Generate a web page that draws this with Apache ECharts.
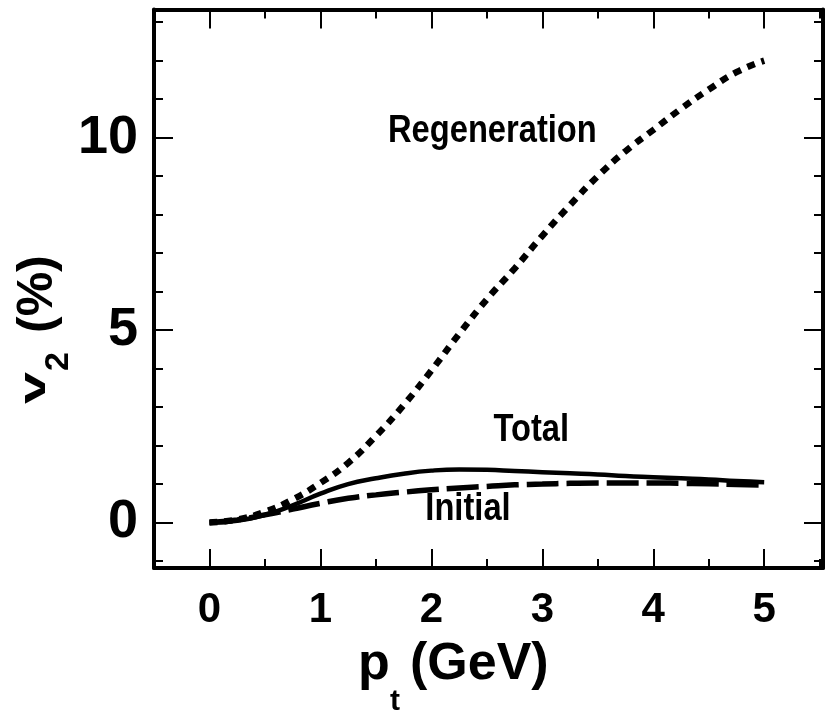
<!DOCTYPE html>
<html>
<head>
<meta charset="utf-8">
<script src="https://cdn.jsdelivr.net/npm/echarts@6/dist/echarts.min.js"></script>
<style>
  html, body { margin: 0; padding: 0; background: #fff; }
  #chart { width: 825px; height: 715px; }
</style>
</head>
<body>
<div id="chart"></div>
<script>
// Transverse momentum grid (GeV)
const pt = [0, 0.25, 0.5, 0.75, 1.0, 1.25, 1.5, 1.75, 2.0, 2.25, 2.5, 2.75,
            3.0, 3.25, 3.5, 3.75, 4.0, 4.25, 4.5, 4.75, 5.0];
// Elliptic flow v2 (%) for each production component
const regeneration = [0, 0.08, 0.28, 0.6, 1.03, 1.55, 2.25, 3.05, 3.95, 4.9, 5.8,
                      6.6, 7.45, 8.25, 9.0, 9.65, 10.2, 10.75, 11.25, 11.7, 12.0];
const total = [0, 0.05, 0.2, 0.45, 0.75, 1.0, 1.15, 1.27, 1.35, 1.38, 1.37,
               1.34, 1.31, 1.28, 1.25, 1.21, 1.18, 1.15, 1.12, 1.08, 1.05];
const initial = [0, 0.07, 0.2, 0.35, 0.5, 0.63, 0.72, 0.79, 0.85, 0.9, 0.94,
                 0.98, 1.0, 1.02, 1.03, 1.03, 1.03, 1.02, 1.01, 0.99, 0.97];

// Axis ticks
const xMajorTicks = [0, 1, 2, 3, 4, 5];
const xMinorTicks = [0.5, 1.5, 2.5, 3.5, 4.5, 5.5];
const yMajorTicks = [0, 5, 10];
const yMinorTicks = [-1, 1, 2, 3, 4, 6, 7, 8, 9, 11, 12, 13];

// Curve annotations: text and the (pt, v2) point they sit at
const curveNames = ['Regeneration', 'Total', 'Initial'];
const curveNameAt = [[2.55, 10.15], [2.9, 2.4], [2.33, 0.33]];

const X_MIN = -0.5, X_MAX = 5.53;
const Y_MIN = -1.18, Y_MAX = 13.33;
const FONT = '"Liberation Sans", Arial, Helvetica, sans-serif';

function xAxisDef(position, ticks, len, labels, line) {
  return {
    type: 'value', position, min: X_MIN, max: X_MAX,
    axisLine: { show: line, onZero: false, lineStyle: { color: '#000', width: 4 } },
    axisTick: { show: true, inside: true, length: len, customValues: ticks,
                lineStyle: { color: '#000', width: 2 } },
    axisLabel: labels ? {
      show: true, customValues: ticks, margin: 21, color: '#000',
      fontFamily: FONT, fontWeight: 'bold', fontSize: 42
    } : { show: false },
    splitLine: { show: false }
  };
}
function yAxisDef(position, ticks, len, labels, line) {
  return {
    type: 'value', position, min: Y_MIN, max: Y_MAX,
    axisLine: { show: line, onZero: false, lineStyle: { color: '#000', width: 4 } },
    axisTick: { show: true, inside: true, length: len, customValues: ticks,
                lineStyle: { color: '#000', width: 2 } },
    axisLabel: labels ? {
      show: true, customValues: ticks, margin: 16, color: '#000',
      fontFamily: FONT, fontWeight: 'bold', fontSize: 54
    } : { show: false },
    splitLine: { show: false }
  };
}

const zip = (xs, ys) => xs.map((x, i) => [x, ys[i]]);
const curve = (name, ys, width, dash) => ({
  name, type: 'line', data: zip(pt, ys), xAxisIndex: 0, yAxisIndex: 0,
  smooth: true, symbol: 'none', silent: true,
  lineStyle: { color: '#000', width, type: dash, cap: 'butt' }
});

const chart = echarts.init(document.getElementById('chart'), null, { renderer: 'canvas' });
chart.setOption({
  animation: false,
  backgroundColor: '#fff',
  grid: { left: 154, right: 2, top: 9.5, bottom: 147, containLabel: false },
  xAxis: [
    xAxisDef('bottom', xMajorTicks, 19, true, true),
    xAxisDef('bottom', xMinorTicks, 9, false, false),
    xAxisDef('top', xMajorTicks, 19, false, true),
    xAxisDef('top', xMinorTicks, 9, false, false)
  ],
  yAxis: [
    yAxisDef('left', yMajorTicks, 19, true, true),
    yAxisDef('left', yMinorTicks, 9, false, false),
    yAxisDef('right', yMajorTicks, 19, false, true),
    yAxisDef('right', yMinorTicks, 9, false, false)
  ],
  series: [
    curve('Regeneration', regeneration, 6.5, [8, 7]),
    curve('Total', total, 4.5, 'solid'),
    curve('Initial', initial, 5.5, [32, 8])
  ]
});

// Curve names, placed through the chart's own coordinate system
const toPx = p => chart.convertToPixel({ xAxisIndex: 0, yAxisIndex: 0 }, p);
const nameTexts = curveNames.map((n, i) => {
  const [x, y] = toPx(curveNameAt[i]);
  return {
    type: 'text', x, y, scaleX: 0.86, silent: true,
    style: { text: n, font: 'bold 38px ' + FONT, fill: '#000',
             align: 'center', verticalAlign: 'middle' }
  };
});

chart.setOption({
  graphic: [
    // x-axis title: p_t (GeV)
    { type: 'text', x: 358, y: 665, silent: true,
      style: { text: 'p', font: 'bold 52px ' + FONT, fill: '#000', verticalAlign: 'middle' } },
    { type: 'text', x: 390, y: 702, silent: true,
      style: { text: 't', font: 'bold 30px ' + FONT, fill: '#000', verticalAlign: 'middle' } },
    { type: 'text', x: 410, y: 665, silent: true,
      style: { text: '(GeV)', font: 'bold 52px ' + FONT, fill: '#000', verticalAlign: 'middle' } },
    // y-axis title: v_2 (%)
    { type: 'text', x: 35, y: 404, rotation: Math.PI / 2, scaleX: 1.55, silent: true,
      style: { text: 'v', font: 'bold 37px ' + FONT, fill: '#000', verticalAlign: 'middle' } },
    { type: 'text', x: 59, y: 371, rotation: Math.PI / 2, silent: true,
      style: { text: '2', font: 'bold 34px ' + FONT, fill: '#000', verticalAlign: 'middle' } },
    { type: 'text', x: 38, y: 333, rotation: Math.PI / 2, silent: true,
      style: { text: '(%)', font: 'bold 50px ' + FONT, fill: '#000', verticalAlign: 'middle' } }
  ].concat(nameTexts)
});
</script>
</body>
</html>
